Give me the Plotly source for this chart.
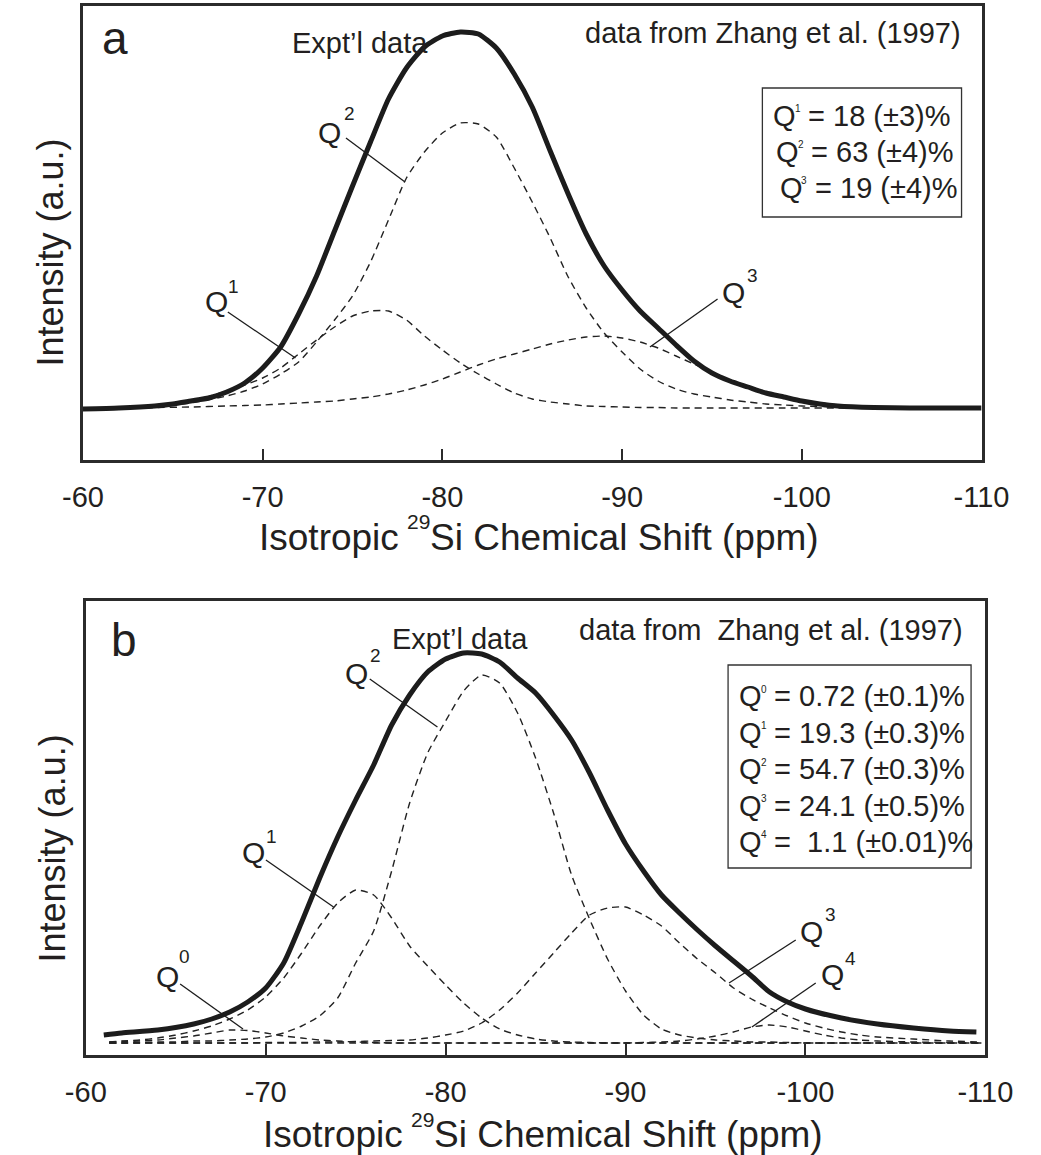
import plotly.graph_objects as go

W, H = 1041, 1155

# ---------------- Panel a data ----------------
a_expt_ppm = [-60, -62, -64, -65, -66, -67, -68, -69, -70, -71, -72, -73, -74, -75, -76, -77,
              -78, -79, -80, -81, -82, -83, -84, -85, -86, -87, -88, -89, -90, -91, -92, -93,
              -94, -95, -96, -97, -98, -99, -100, -101, -102, -104, -106, -110]
a_expt = [-1, 0, 2, 4, 7, 10, 16, 25, 40, 61, 94, 132, 177, 222, 266, 309,
          340, 361, 372, 376, 374, 360, 334, 301, 257, 214, 174, 142, 118, 97, 80, 63,
          47, 35, 27, 21, 15, 11, 7, 4, 2, 0.5, 0, 0]

a_comp_ppm = [-63.5, -64, -66, -68, -69, -70, -71, -72, -73, -74, -75, -76, -77, -78, -79, -80,
              -81, -82, -83, -84, -85, -86, -87, -88, -89, -90, -91, -92, -93, -94, -95, -96,
              -97, -98, -99, -100, -102, -104]
a_q1 = [0, 1, 7, 17, 23, 30, 40, 54, 68, 81, 92, 97, 97, 88, 72, 58,
        45, 34, 24, 15, 9, 6, 4, 2, 1.5, 1, 0.5, 0.5, 0, 0, 0, 0,
        0, 0, 0, 0, 0, 0]
a_q2 = [0, 1, 5, 12, 17, 24, 34, 46, 66, 88, 112, 146, 188, 230, 256, 275,
        285, 284, 271, 240, 206, 170, 131, 100, 75, 56, 39, 27, 19, 14, 11, 8,
        6, 4, 3, 2, 1, 0]
a_q3 = [0.5, 0.5, 1, 2, 2.5, 3, 4, 5, 6, 7, 9, 11, 14, 18, 23, 29,
        36, 43, 49, 54, 59, 64, 68, 71, 72, 70, 66, 60, 52, 44, 36, 28,
        22, 16, 11, 8, 3, 1]

# ---------------- Panel b data ----------------
b_expt_ppm = [-61, -62, -64, -66, -67, -68, -69, -70, -71, -72, -73, -74, -75, -76, -77, -78,
              -79, -80, -81, -82, -83, -84, -85, -86, -87, -88, -89, -90, -91, -92, -93, -94,
              -95, -96, -97, -98, -99, -100, -102, -104, -106, -108, -109.5]
b_expt = [8, 10, 13, 19, 24, 31, 41, 55, 80, 121, 165, 206, 243, 278, 318, 348,
          371, 384, 390, 389, 381, 365, 350, 328, 303, 270, 233, 199, 172, 148, 130, 113,
          97, 82, 67, 51, 41, 34, 25, 19, 15, 12, 11]

b_comp_ppm = [-61.3, -62, -63, -64, -65, -66, -67, -68, -69, -70, -71, -72, -73, -74, -75, -76,
              -77, -78, -79, -80, -81, -82, -83, -84, -85, -86, -87, -88, -89, -90, -91, -92,
              -93, -94, -95, -96, -97, -98, -99, -100, -101, -102, -103, -104, -106, -108, -109.8]
b_q0 = [1, 1.5, 2, 3, 5, 7, 10, 13, 12.5, 10, 7, 5, 3, 2, 1, 0.5,
        0, 0, 0, 0, 0, 0, 0, 0, 0, 0, 0, 0, 0, 0, 0, 0,
        0, 0, 0, 0, 0, 0, 0, 0, 0, 0, 0, 0, 0, 0, 0]
b_q1 = [1, 2, 3, 5, 8, 12, 17, 24, 33, 46, 65, 90, 117, 140, 153, 148,
        125, 97, 77, 58, 40, 25, 14, 8, 4, 2, 1, 0.5, 0, 0, 0, 0,
        0, 0, 0, 0, 0, 0, 0, 0, 0, 0, 0, 0, 0, 0, 0]
b_q2 = [0, 0, 0.5, 1, 1, 2, 2, 3, 4, 6, 10, 17, 27, 45, 80, 112,
        172, 240, 290, 322, 352, 368, 360, 330, 285, 230, 168, 124, 84, 52, 28, 14,
        8, 5, 3, 2, 1, 1, 0.5, 0, 0, 0, 0, 0, 0, 0, 0]
b_q3 = [0, 0, 0, 0, 0, 0, 0, 0, 0, 0.5, 0.5, 0.5, 1, 1, 1.5, 2,
        2.5, 3, 5, 8, 12, 20, 33, 50, 70, 90, 110, 128, 135, 136, 128, 117,
        100, 84, 70, 55, 44, 35, 27, 20, 15, 11, 8, 6, 4, 2, 1]
b_q4 = [0, 0, 0, 0, 0, 0, 0, 0, 0, 0, 0, 0, 0, 0, 0, 0,
        0, 0, 0, 0, 0, 0, 0, 0, 0, 0, 0, 0, 0, 0, 0.5, 1,
        2, 4, 7, 11, 16, 18, 16, 12, 8, 5, 3, 2, 1, 0.5, 0]

tick_vals = [-60, -70, -80, -90, -100, -110]
tick_text = ["-60", "-70", "-80", "-90", "-100", "-110"]

# box contents: (superscript, rest of line)
box_a_rows = [("1", " = 18 (±3)%"), ("2", " = 63 (±4)%"), ("3", " = 19 (±4)%")]
box_b_rows = [("0", " = 0.72 (±0.1)%"), ("1", " = 19.3 (±0.3)%"), ("2", " = 54.7 (±0.3)%"),
              ("3", " = 24.1 (±0.5)%"), ("4", " =\u00a0 1.1 (±0.01)%")]

# ---------------- figure ----------------
FONT = "Liberation Sans, Arial, Helvetica, sans-serif"
INK = "#231f20"


def px(x):
    return x / W


def py(y):
    return 1 - y / H


fig = go.Figure()

thick = dict(color="#1c1c1c", width=5, shape="spline", smoothing=0.6)
dashed = dict(color="#222222", width=1.4, dash="7px,5px", shape="spline", smoothing=0.6)

for ys in (a_q1, a_q2, a_q3):
    fig.add_trace(go.Scatter(x=a_comp_ppm, y=ys, mode="lines", line=dashed,
                             xaxis="x", yaxis="y", hoverinfo="skip"))
fig.add_trace(go.Scatter(x=a_expt_ppm, y=a_expt, mode="lines", line=thick,
                         xaxis="x", yaxis="y", hoverinfo="skip"))

for ys in (b_q0, b_q1, b_q2, b_q3, b_q4):
    fig.add_trace(go.Scatter(x=b_comp_ppm, y=ys, mode="lines", line=dashed,
                             xaxis="x2", yaxis="y2", hoverinfo="skip"))
fig.add_trace(go.Scatter(x=b_expt_ppm, y=b_expt, mode="lines", line=thick,
                         xaxis="x2", yaxis="y2", hoverinfo="skip"))

frame = dict(showline=True, mirror=True, linewidth=2.5, linecolor="#2b2b2b",
             showgrid=False, zeroline=False)
xcommon = dict(range=[-60, -110], tickmode="array", tickvals=tick_vals, ticktext=tick_text,
               ticks="inside", ticklen=11, tickwidth=1.5, tickcolor="#2b2b2b",
               tickfont=dict(family=FONT, size=29, color=INK), ticklabelstandoff=9, **frame)
ycommon = dict(showticklabels=False, ticks="", **frame)

fig.update_layout(
    width=W, height=H, autosize=False,
    margin=dict(l=0, r=0, t=0, b=0),
    paper_bgcolor="white", plot_bgcolor="white",
    showlegend=False,
    xaxis=dict(domain=[px(65), px(1008)], anchor="y", **xcommon),
    yaxis=dict(domain=[py(460), py(6)], range=[-52, 402], anchor="x", **ycommon),
    xaxis2=dict(domain=[px(68), px(1012)], anchor="y2", **xcommon),
    yaxis2=dict(domain=[py(1055), py(601)], range=[-12, 442], anchor="x2", **ycommon),
)

ann = []
shapes = []


def text(x, y, s, size=29, xanchor="left", angle=0):
    ann.append(dict(xref="paper", yref="paper", x=px(x), y=py(y), text=s, showarrow=False,
                    xanchor=xanchor, yanchor="middle", textangle=angle, borderpad=0,
                    font=dict(family=FONT, size=size, color=INK)))


def leader(x0, y0, x1, y1):
    shapes.append(dict(type="line", xref="paper", yref="paper",
                       x0=px(x0), y0=py(y0), x1=px(x1), y1=py(y1),
                       line=dict(color="#1c1c1c", width=1.3)))


def qlabel(qx, qy, sx, sy, sup):
    text(qx, qy, "Q", size=30, xanchor="center")
    text(sx, sy, sup, size=19, xanchor="center")


def box_row(lx, ly, sup, rest):
    text(lx, ly, "Q", size=29)
    text(lx + 23, ly - 7, sup, size=10)
    text(lx + 28.5, ly, rest, size=29)


def xtitle(cx, cy):
    # "Isotropic " + superscript 29 + "Si Chemical Shift (ppm)", font 37 (Arial metrics)
    x0 = cx - 284
    text(x0, cy, "Isotropic", size=37)
    text(x0 + 155, cy - 15, "29", size=21)
    text(x0 + 179, cy, "Si Chemical Shift (ppm)", size=37)


# panel letters and captions
text(99, 38, "a", size=46, xanchor="center")
text(108, 640, "b", size=46, xanchor="center")
text(283, 43, "Expt’l data")
text(388, 639, "Expt’l data")
text(987, 33, "data from Zhang et al. (1997)", xanchor="right")
text(990, 630, "data from\u00a0 Zhang et al. (1997)", xanchor="right")

# axis titles
xtitle(533, 537)
xtitle(537, 1134)
text(30, 253, "Intensity (a.u.)", size=36, xanchor="center", angle=-90)
text(33, 848, "Intensity (a.u.)", size=36, xanchor="center", angle=-90)

# boxes
shapes.append(dict(type="rect", xref="paper", yref="paper", x0=px(778), x1=px(987),
                   y0=py(217), y1=py(88), line=dict(color="#333333", width=1.3)))
for (lx, ly), (sup, rest) in zip([(788, 116), (791, 152), (795, 188)], box_a_rows):
    box_row(lx, ly, sup, rest)
shapes.append(dict(type="rect", xref="paper", yref="paper", x0=px(742), x1=px(997),
                   y0=py(868), y1=py(665), line=dict(color="#333333", width=1.3)))
for i, (sup, rest) in enumerate(box_b_rows):
    box_row(752, 696 + i * 36.5, sup, rest)

# component labels with leader lines, panel a
qlabel(205, 302, 223, 286, "1")
leader(217, 312, 288, 358)
qlabel(324, 133, 345, 113, "2")
leader(341, 138, 403, 182)
qlabel(748, 292, 768, 275, "3")
leader(731, 299, 660, 347)

# component labels with leader lines, panel b
qlabel(154, 976, 172, 956, "0")
leader(167, 984, 233, 1029)
qlabel(244, 853, 263, 836, "1")
leader(257, 860, 328, 907)
qlabel(352, 673, 372, 655, "2")
leader(366, 679, 437, 727)
qlabel(830, 931, 850, 914, "3")
leader(813, 940, 743, 983)
qlabel(852, 975, 870, 958, "4")
leader(834, 983, 767, 1027)

fig.update_layout(annotations=ann, shapes=shapes)
fig.write_html("out.html")
